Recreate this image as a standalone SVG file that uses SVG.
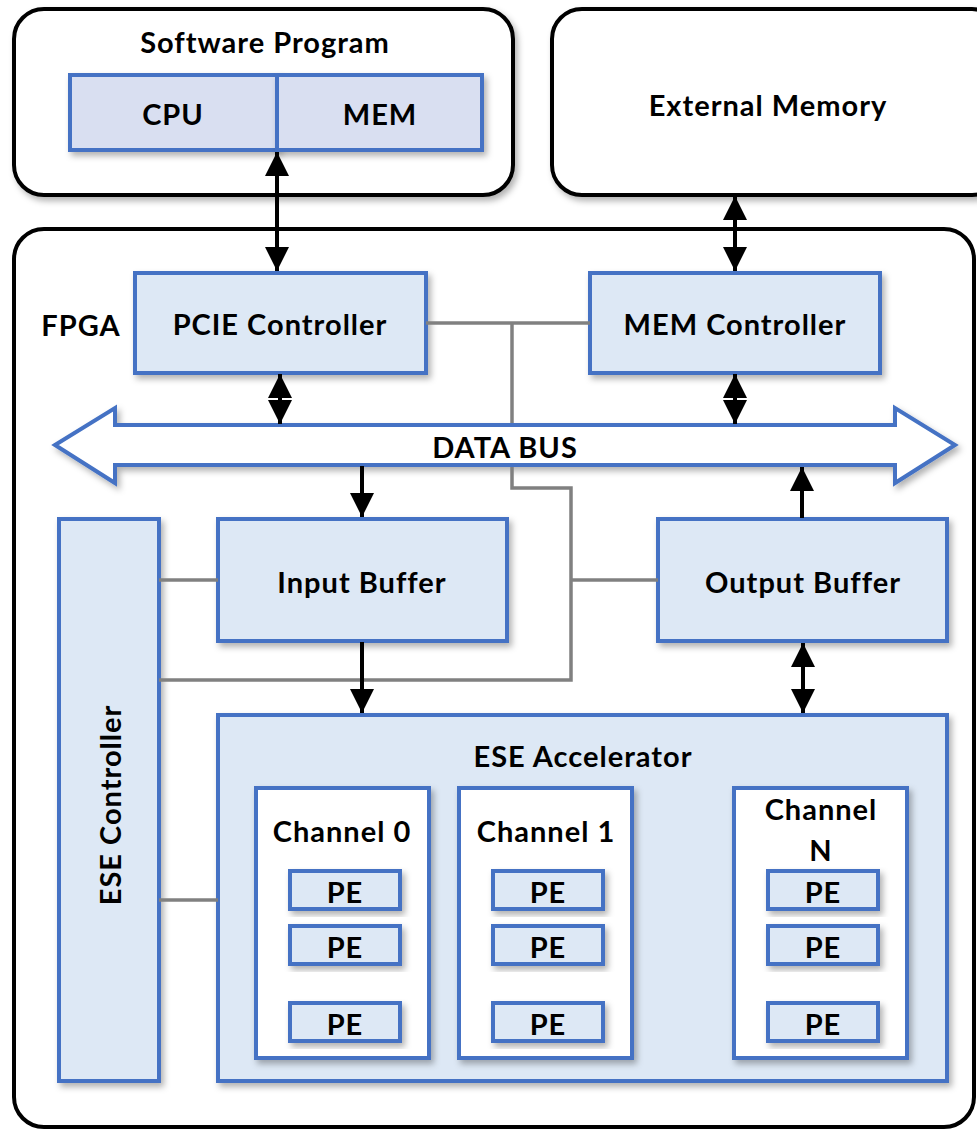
<svg xmlns="http://www.w3.org/2000/svg" width="977" height="1129" viewBox="0 0 977 1129">
  <style>
    .outer { fill: #ffffff; stroke: #000000; stroke-width: 4; }
    .blk { fill: #dde8f5; stroke: #4472c4; stroke-width: 4; }
    .host { fill: #d9dff1; stroke: #4472c4; stroke-width: 4; }
    .chan { fill: #ffffff; stroke: #4472c4; stroke-width: 4; }
    .lbl { font-family: Lato, "Open Sans", "Liberation Sans", sans-serif; font-weight: bold; font-size: 29px; letter-spacing: 1px; fill: #000000; text-anchor: middle; dominant-baseline: central; }
    .ctl { stroke: #808080; stroke-width: 3.5; fill: none; }
    .dat { stroke: #000000; stroke-width: 4; fill: none; }
  </style>
  <defs>
    <filter id="shadow" x="-10%" y="-10%" width="130%" height="130%">
      <feDropShadow dx="3" dy="4" stdDeviation="3" flood-color="#000000" flood-opacity="0.3"/>
    </filter>
    <marker id="ah" viewBox="0 0 10 10" refX="10" refY="5" markerWidth="6" markerHeight="6" markerUnits="strokeWidth" orient="auto-start-reverse">
      <path d="M0,0 L10,5 L0,10 z" fill="#000000"/>
    </marker>
  </defs>

  <!-- host side -->
  <g id="software-program">
    <rect class="outer" x="14" y="9" width="499" height="186" rx="30" filter="url(#shadow)"/>
    <text class="lbl" x="265" y="41">Software Program</text>
    <g id="cpu">
      <rect class="host" x="70" y="75" width="207" height="75" filter="url(#shadow)"/>
      <text class="lbl" x="173" y="113">CPU</text>
    </g>
    <g id="mem">
      <rect class="host" x="277" y="75" width="205" height="75" filter="url(#shadow)"/>
      <text class="lbl" x="380" y="113">MEM</text>
    </g>
  </g>

  <g id="external-memory">
    <rect class="outer" x="552" y="9" width="450" height="186" rx="30" filter="url(#shadow)"/>
    <text class="lbl" x="768" y="104">External Memory</text>
  </g>

  <!-- FPGA board -->
  <g id="fpga">
    <rect class="outer" x="14" y="229" width="960" height="898" rx="30"/>
    <text class="lbl" x="81" y="324">FPGA</text>
  </g>

  <g id="pcie-controller">
    <rect class="blk" x="135" y="273" width="291" height="100" filter="url(#shadow)"/>
    <text class="lbl" x="280" y="323">PCIE Controller</text>
  </g>

  <g id="mem-controller">
    <rect class="blk" x="590" y="273" width="290" height="100" filter="url(#shadow)"/>
    <text class="lbl" x="735" y="323">MEM Controller</text>
  </g>

  <g id="data-bus">
    <path d="M55,445 L115,408 L115,425 L895,425 L895,408 L955,445 L895,483 L895,465 L115,465 L115,483 Z"
          fill="#ffffff" stroke="#4472c4" stroke-width="4" stroke-linejoin="miter" filter="url(#shadow)"/>
    <text class="lbl" x="505" y="446">DATA BUS</text>
  </g>

  <g id="input-buffer">
    <rect class="blk" x="218" y="519" width="289" height="122" filter="url(#shadow)"/>
    <text class="lbl" x="362" y="581">Input Buffer</text>
  </g>

  <g id="output-buffer">
    <rect class="blk" x="658" y="519" width="289" height="122" filter="url(#shadow)"/>
    <text class="lbl" x="803" y="581">Output Buffer</text>
  </g>

  <g id="ese-controller">
    <rect class="blk" x="59" y="519" width="100" height="562" filter="url(#shadow)"/>
    <text class="lbl" x="109" y="805" transform="rotate(-90 109 805)">ESE Controller</text>
  </g>

  <g id="ese-accelerator">
    <rect class="blk" x="218" y="715" width="729" height="366" filter="url(#shadow)"/>
    <text class="lbl" x="583" y="755">ESE Accelerator</text>

    <g id="channel-0">
      <rect class="chan" x="256" y="788" width="173" height="270" filter="url(#shadow)"/>
      <text class="lbl" x="342" y="830">Channel 0</text>
      <rect class="blk" x="290" y="871" width="110" height="38" filter="url(#shadow)"/>
      <text class="lbl" x="345" y="891">PE</text>
      <rect class="blk" x="290" y="926" width="110" height="38" filter="url(#shadow)"/>
      <text class="lbl" x="345" y="946">PE</text>
      <rect class="blk" x="290" y="1003" width="110" height="38" filter="url(#shadow)"/>
      <text class="lbl" x="345" y="1023">PE</text>
    </g>

    <g id="channel-1">
      <rect class="chan" x="459" y="788" width="173" height="270" filter="url(#shadow)"/>
      <text class="lbl" x="546" y="830">Channel 1</text>
      <rect class="blk" x="493" y="871" width="110" height="38" filter="url(#shadow)"/>
      <text class="lbl" x="548" y="891">PE</text>
      <rect class="blk" x="493" y="926" width="110" height="38" filter="url(#shadow)"/>
      <text class="lbl" x="548" y="946">PE</text>
      <rect class="blk" x="493" y="1003" width="110" height="38" filter="url(#shadow)"/>
      <text class="lbl" x="548" y="1023">PE</text>
    </g>

    <g id="channel-n">
      <rect class="chan" x="734" y="788" width="173" height="270" filter="url(#shadow)"/>
      <text class="lbl" x="821" y="808">Channel</text>
      <text class="lbl" x="821" y="849">N</text>
      <rect class="blk" x="768" y="871" width="110" height="38" filter="url(#shadow)"/>
      <text class="lbl" x="823" y="891">PE</text>
      <rect class="blk" x="768" y="926" width="110" height="38" filter="url(#shadow)"/>
      <text class="lbl" x="823" y="946">PE</text>
      <rect class="blk" x="768" y="1003" width="110" height="38" filter="url(#shadow)"/>
      <text class="lbl" x="823" y="1023">PE</text>
    </g>
  </g>

  <!-- control wiring (passes under the bus) and data paths -->
  <g id="connectors">
    <polyline class="ctl" points="426,323 590,323"/>
    <polyline class="ctl" points="512,323 512,423"/>
    <polyline class="ctl" points="512,467 512,488 571,488 571,680 159,680"/>
    <polyline class="ctl" points="571,580 658,580"/>
    <polyline class="ctl" points="159,580 218,580"/>
    <polyline class="ctl" points="159,900 218,900"/>

    <line class="dat" x1="277" y1="152" x2="277" y2="271" marker-start="url(#ah)" marker-end="url(#ah)"/>
    <line class="dat" x1="735" y1="196" x2="735" y2="271" marker-start="url(#ah)" marker-end="url(#ah)"/>
    <line class="dat" x1="280" y1="374" x2="280" y2="424" marker-start="url(#ah)" marker-end="url(#ah)"/>
    <line class="dat" x1="735" y1="374" x2="735" y2="424" marker-start="url(#ah)" marker-end="url(#ah)"/>
    <line class="dat" x1="362" y1="466" x2="362" y2="517" marker-end="url(#ah)"/>
    <line class="dat" x1="802" y1="518" x2="802" y2="467" marker-end="url(#ah)"/>
    <line class="dat" x1="362" y1="642" x2="362" y2="713" marker-end="url(#ah)"/>
    <line class="dat" x1="803" y1="643" x2="803" y2="713" marker-start="url(#ah)" marker-end="url(#ah)"/>
  </g>
</svg>
